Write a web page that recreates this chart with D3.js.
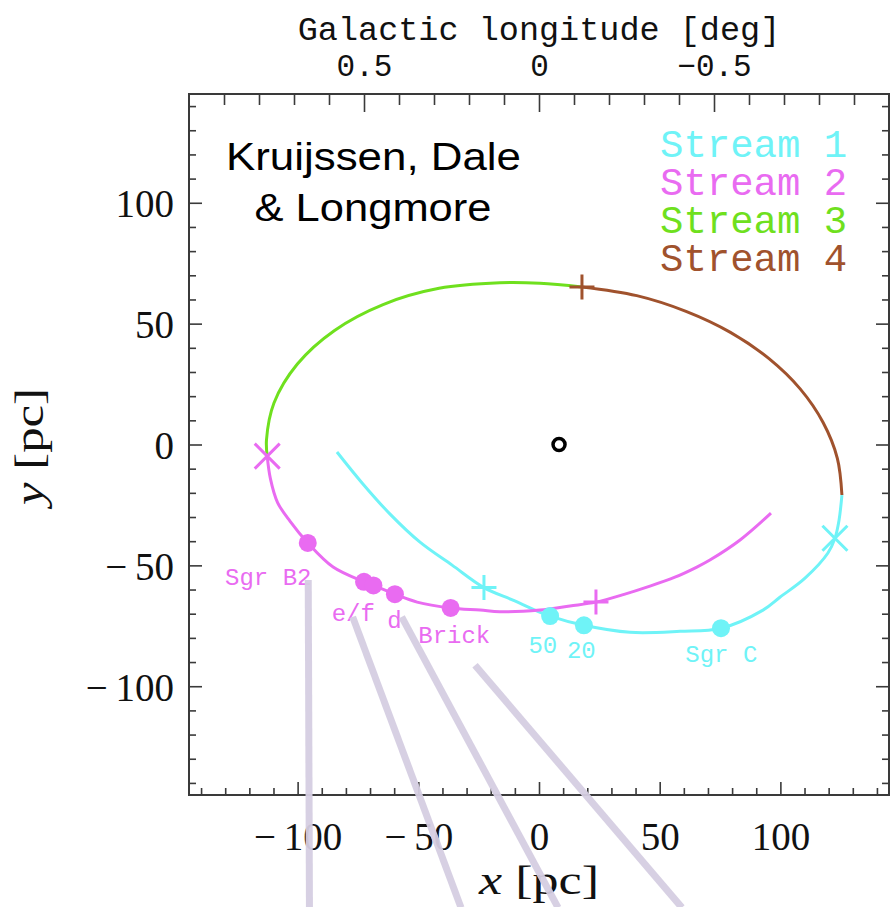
<!DOCTYPE html>
<html>
<head>
<meta charset="utf-8">
<script src="https://cdn.jsdelivr.net/npm/d3@7"></script>
<style>
  html, body { margin: 0; padding: 0; background: #fff; }
  svg { display: block; }
</style>
</head>
<body>
<svg id="chart" width="890" height="907"></svg>
<script>
// ---- Orbit streams, face-on (x, y) in pc ----
const stream1X = [-83.7, -73.3, -61.7, -49.3, -36.0, -22.8, -10.8, -1.7, 4.6, 18.6, 37.7, 58.4, 75.4, 92.8, 99.8, 110.2, 119.7, 122.6, 124.3, 125.5];
const stream1Y = [-3.1, -15.9, -28.8, -40.4, -49.9, -59.2, -64.4, -68.5, -71.0, -74.8, -77.7, -77.3, -76.0, -68.5, -63.2, -55.3, -44.9, -38.8, -31.3, -20.9];

const stream2X = [-112.6, -111.3, -108.3, -103.1, -95.8, -85.3, -72.5, -68.6, -59.7, -50.5, -36.6, -24.4, -16.2, 0.4, 12.8, 23.6, 35.6, 44.7, 56.3, 65.4, 70.8, 83.3, 96.1];
const stream2Y = [-4.8, -14.0, -24.0, -31.8, -40.7, -50.7, -56.8, -58.3, -61.9, -65.2, -67.6, -68.5, -69.2, -68.5, -66.8, -65.2, -61.9, -59.0, -54.9, -50.7, -47.8, -39.5, -28.4];

const stream3X = [17.8, 0.4, -16.2, -41.4, -64.6, -84.7, -100.1, -109.8, -112.9, -112.6];
const stream3Y = [65.2, 66.7, 66.9, 64.6, 57.9, 47.2, 33.3, 17.2, 1.9, -4.8];

const stream4X = [17.8, 40.5, 60.9, 79.3, 95.3, 108.2, 117.7, 123.6, 125.5];
const stream4Y = [65.2, 61.6, 55.1, 46.4, 35.5, 23.0, 9.1, -5.7, -20.9];

const streamNames = ["Stream 1", "Stream 2", "Stream 3", "Stream 4"];

// ---- Clouds along the streams ----
const cloudNames  = ["Sgr B2", "e", "f", "d", "Brick", "50", "20", "Sgr C"];
const cloudX      = [-95.8, -72.5, -68.6, -59.7, -36.6, 4.6, 18.6, 75.4];
const cloudY      = [-40.7, -56.8, -58.3, -61.9, -67.6, -71.0, -74.8, -76.0];
const cloudStream = [1, 1, 1, 1, 1, 0, 0, 0];

const cloudLabels  = ["Sgr B2", "e/f", "d", "Brick", "50", "20", "Sgr C"];
const cloudLabelOf = [0, 1, 3, 4, 5, 6, 7];

// ---- Orbit markers ----
const plusX = [17.8, -22.8, 23.6];
const plusY = [65.2, -59.2, -65.2];
const plusStream = [3, 0, 1];

const crossX = [-112.6, 122.6];
const crossY = [-4.8, -38.8];
const crossStream = [1, 0];

const centreX = [8.3];
const centreY = [0];

// ---- Lines of sight towards the observer ----
const sightX0 = [-95.6, -77.2, -56.9, -26.5];
const sightY0 = [-56.1, -71.3, -71.3, -91.3];
const sightX1 = [-95.1, -32.3, 7.9, 59.2];
const sightY1 = [-191.6, -191.6, -191.6, -191.6];

// ---- Axis ticks ----
const xMajor = [-100, -50, 0, 50, 100];
const yMajor = [-100, -50, 0, 50, 100];
const minorPc = d3.range(-140, 141, 10);
const lonMajor = [0.5, 0, -0.5];
const lonMinor = d3.range(-9, 10).map(d => d / 10);

// ---------------------------------------------------------------
const colors = ["#6ff3f7", "#e96bf1", "#6fe01e", "#a0522d"];
const svg = d3.select("#chart");

const x = d3.scaleLinear().domain([-145, 145]).range([189, 889]);
const y = d3.scaleLinear().domain([-145, 145]).range([795, 94]);
const lon = d3.scaleLinear().domain([1.0, -1.0]).range([189, 889]);

const serif = "'Liberation Serif', 'Times New Roman', serif";
const mono = "'Liberation Mono', 'DejaVu Sans Mono', monospace";
const sans = "'Liberation Sans', Arial, sans-serif";
const axisColor = "#3a3a3a";

const fmtPc = d => d < 0 ? "\u2212\u2009" + Math.abs(d) : String(d);
const fmtLon = d => d === 0 ? "0" : (d < 0 ? "\u2212" : "") + Math.abs(d);

function styleAxis(g) {
  g.select(".domain").remove();
  g.selectAll(".tick line").attr("stroke", axisColor).attr("stroke-width", 1.6);
  g.selectAll("text").attr("fill", "#111");
}

// Frame
svg.append("rect")
  .attr("x", x(-145)).attr("y", y(145))
  .attr("width", x(145) - x(-145)).attr("height", y(-145) - y(145))
  .attr("fill", "none").attr("stroke", axisColor).attr("stroke-width", 2);

// Bottom axis
svg.append("g").attr("transform", `translate(0,${y(-145)})`)
  .call(d3.axisBottom(x).tickValues(minorPc.filter(d => d % 50 !== 0)).tickSize(-7).tickFormat(""))
  .call(styleAxis);
svg.append("g").attr("transform", `translate(0,${y(-145)})`)
  .call(d3.axisBottom(x).tickValues(xMajor).tickSize(-13).tickFormat(fmtPc))
  .call(styleAxis)
  .call(g => g.selectAll("text").attr("y", 55).attr("dy", null)
    .attr("font-family", serif).attr("font-size", 39));

// Left axis
svg.append("g").attr("transform", `translate(${x(-145)},0)`)
  .call(d3.axisLeft(y).tickValues(minorPc.filter(d => d % 50 !== 0)).tickSize(-7).tickFormat(""))
  .call(styleAxis);
svg.append("g").attr("transform", `translate(${x(-145)},0)`)
  .call(d3.axisLeft(y).tickValues(yMajor).tickSize(-13).tickFormat(fmtPc))
  .call(styleAxis)
  .call(g => g.selectAll("text").attr("x", -15).attr("y", 14).attr("dy", null)
    .attr("font-family", serif).attr("font-size", 39));

// Right axis
svg.append("g").attr("transform", `translate(${x(145)},0)`)
  .call(d3.axisRight(y).tickValues(minorPc.filter(d => d % 50 !== 0)).tickSize(-7).tickFormat(""))
  .call(styleAxis);
svg.append("g").attr("transform", `translate(${x(145)},0)`)
  .call(d3.axisRight(y).tickValues(yMajor).tickSize(-13).tickFormat(""))
  .call(styleAxis);

// Top axis: Galactic longitude
svg.append("g").attr("transform", `translate(0,${y(145)})`)
  .call(d3.axisTop(lon).tickValues(lonMinor.filter(d => Math.abs(d * 10) % 5 !== 0)).tickSize(-11).tickFormat(""))
  .call(styleAxis);
svg.append("g").attr("transform", `translate(0,${y(145)})`)
  .call(d3.axisTop(lon).tickValues(lonMajor).tickSize(-18).tickFormat(fmtLon))
  .call(styleAxis)
  .call(g => g.selectAll("text").attr("y", -18).attr("dy", null)
    .attr("font-family", mono).attr("font-size", 31));

// Axis titles
svg.append("text")
  .attr("x", lon(0)).attr("y", 40)
  .attr("text-anchor", "middle")
  .attr("font-family", mono).attr("font-size", 33.5).attr("fill", "#111")
  .text("Galactic longitude [deg]");

const xt = svg.append("text")
  .attr("x", x(0)).attr("y", 894)
  .attr("text-anchor", "middle")
  .attr("font-family", serif).attr("font-size", 40).attr("fill", "#111")
  .attr("textLength", 120).attr("lengthAdjust", "spacingAndGlyphs");
xt.append("tspan").attr("font-style", "italic").text("x");
xt.append("tspan").text(" [pc]");

const yt = svg.append("text")
  .attr("transform", `translate(43,${y(0) + 2}) rotate(-90)`)
  .attr("text-anchor", "middle")
  .attr("font-family", serif).attr("font-size", 40).attr("fill", "#111")
  .attr("textLength", 117).attr("lengthAdjust", "spacingAndGlyphs");
yt.append("tspan").attr("font-style", "italic").text("y");
yt.append("tspan").text(" [pc]");

// Streams
const streams = [
  d3.zip(stream1X, stream1Y),
  d3.zip(stream2X, stream2Y),
  d3.zip(stream3X, stream3Y),
  d3.zip(stream4X, stream4Y)
];
const line = d3.line()
  .x(d => x(d[0])).y(d => y(d[1]))
  .curve(d3.curveCatmullRom.alpha(0.5));

svg.append("g").selectAll("path")
  .data(streams)
  .join("path")
  .attr("d", line)
  .attr("fill", "none")
  .attr("stroke", (d, i) => colors[i])
  .attr("stroke-width", 3)
  .attr("stroke-linecap", "butt");

// Plus and cross markers
const armPlus = 12.5;
svg.append("g").selectAll("path")
  .data(d3.range(plusX.length))
  .join("path")
  .attr("d", i => {
    const cx = x(plusX[i]), cy = y(plusY[i]);
    return `M${cx - armPlus},${cy}H${cx + armPlus}M${cx},${cy - armPlus}V${cy + armPlus}`;
  })
  .attr("stroke", i => colors[plusStream[i]])
  .attr("stroke-width", 3).attr("fill", "none");

const armX = 12.5;
svg.append("g").selectAll("path")
  .data(d3.range(crossX.length))
  .join("path")
  .attr("d", i => {
    const cx = x(crossX[i]), cy = y(crossY[i]);
    return `M${cx - armX},${cy - armX}L${cx + armX},${cy + armX}M${cx - armX},${cy + armX}L${cx + armX},${cy - armX}`;
  })
  .attr("stroke", i => colors[crossStream[i]])
  .attr("stroke-width", 3).attr("fill", "none");

// Centre of the orbit
svg.append("g").selectAll("circle")
  .data(d3.zip(centreX, centreY))
  .join("circle")
  .attr("cx", d => x(d[0])).attr("cy", d => y(d[1]))
  .attr("r", 6)
  .attr("fill", "none").attr("stroke", "#000").attr("stroke-width", 3.5);

// Clouds
svg.append("g").selectAll("circle")
  .data(d3.range(cloudX.length))
  .join("circle")
  .attr("cx", i => x(cloudX[i])).attr("cy", i => y(cloudY[i]))
  .attr("r", 9)
  .attr("fill", i => colors[cloudStream[i]]);

// Cloud labels, placed just below their cloud
const labelOffset = {
  "Sgr B2": [-39.5, 42.3],
  "e/f": [-10.7, 39.3],
  "d": [-0.5, 34.3],
  "Brick": [3.6, 35],
  "50": [-7.3, 36.7],
  "20": [-2.6, 32.3],
  "Sgr C": [0.3, 34]
};
svg.append("g").selectAll("text")
  .data(d3.range(cloudLabels.length))
  .join("text")
  .attr("x", i => x(cloudX[cloudLabelOf[i]]) + labelOffset[cloudLabels[i]][0])
  .attr("y", i => y(cloudY[cloudLabelOf[i]]) + labelOffset[cloudLabels[i]][1])
  .attr("text-anchor", "middle")
  .attr("font-family", mono).attr("font-size", 24)
  .attr("fill", i => colors[cloudStream[cloudLabelOf[i]]])
  .text(i => cloudLabels[i]);

// Legend
svg.append("g").selectAll("text")
  .data(streamNames)
  .join("text")
  .attr("x", 660)
  .attr("y", (d, i) => 156.5 + i * 38.2)
  .attr("font-family", mono).attr("font-size", 39)
  .attr("fill", (d, i) => colors[i])
  .text(d => d);

// Authors
const authors = svg.append("g")
  .attr("font-family", sans).attr("font-size", 38).attr("fill", "#000")
  .attr("text-anchor", "middle");
authors.append("text").attr("x", 373.5).attr("y", 170)
  .attr("textLength", 295).attr("lengthAdjust", "spacingAndGlyphs")
  .text("Kruijssen, Dale");
authors.append("text").attr("x", 373).attr("y", 221)
  .attr("textLength", 237).attr("lengthAdjust", "spacingAndGlyphs")
  .text("& Longmore");

// Lines of sight
svg.append("g").selectAll("line")
  .data(d3.range(sightX0.length))
  .join("line")
  .attr("x1", i => x(sightX0[i])).attr("y1", i => y(sightY0[i]))
  .attr("x2", i => x(sightX1[i])).attr("y2", i => y(sightY1[i]))
  .attr("stroke", "#d5cde1").attr("stroke-width", 7)
  .attr("stroke-opacity", 0.95);
</script>
</body>
</html>
